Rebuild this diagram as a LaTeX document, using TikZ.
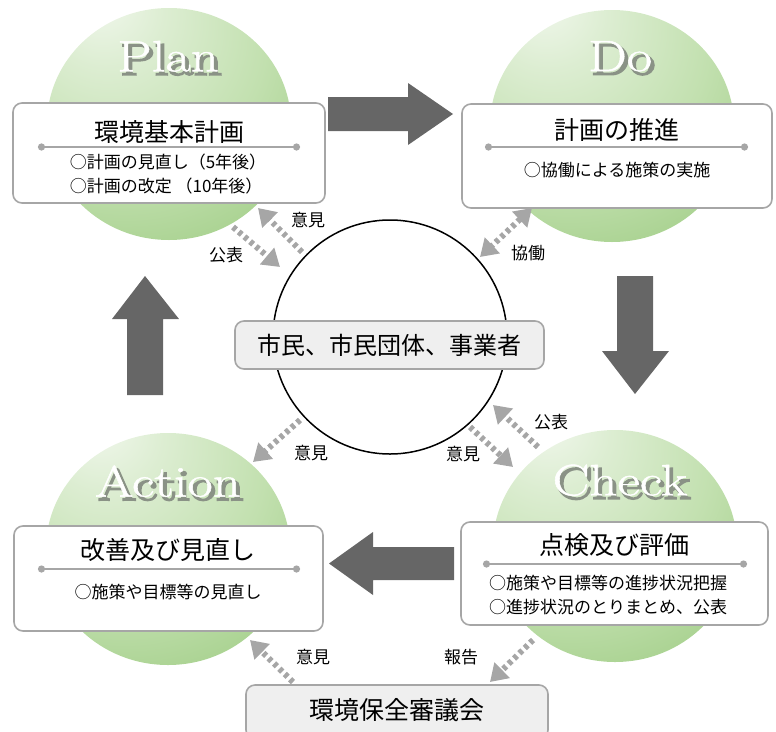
\documentclass[tikz,border=0pt]{standalone}
\usepackage{fontspec}
\setmainfont{Noto Sans CJK JP}
\newfontfamily\pdcafont[FakeBold=1]{Latin Modern Roman}
\newfontfamily\pdcashadowfont[FakeBold=4]{Latin Modern Roman}
\usetikzlibrary{arrows.meta,calc}
\definecolor{boxline}{HTML}{A6A6A6}
\definecolor{arrowdark}{HTML}{666666}
\definecolor{dotgray}{HTML}{A6A6A6}
\definecolor{lightfill}{HTML}{EFEFEF}
\definecolor{sphin}{HTML}{F2F8EE}
\definecolor{sphmid}{HTML}{C2E0AF}
\definecolor{sphout}{HTML}{99C97D}
\definecolor{shadowgray}{HTML}{8A9286}
\pgfdeclareradialshading{sphereshade}{\pgfpoint{-15bp}{28bp}}{color(0bp)=(sphin); color(12bp)=(sphin!55!sphmid); color(30bp)=(sphmid); color(52bp)=(sphout); color(90bp)=(sphout!90!black)}
\newcommand\pdcaword[1]{\scalebox{1.25}[1]{\makebox[0pt][l]{\raisebox{-3.5pt}{\hspace{2.5pt}{\pdcashadowfont\color{shadowgray}#1}}}{\pdcafont\color{white}#1}}}
\tikzset{
  stagebox/.style={draw=boxline, line width=1.6pt, rounded corners=9pt, fill=white, inner sep=0pt},
  graybox/.style={draw=boxline, line width=1.6pt, rounded corners=9pt, fill=lightfill, inner sep=0pt},
  titletext/.style={font=\fontsize{25}{28}\selectfont, inner sep=0pt},
  subtext/.style={font=\fontsize{17}{23.5}\selectfont, align=left, inner sep=0pt},
  labeltext/.style={font=\fontsize{17}{19}\selectfont, inner sep=0pt},
  sepline/.style={draw=boxline, line width=2.6pt, {Circle[length=7pt]}-{Circle[length=7pt]}},
  dotarrow/.style={draw=dotgray, line width=6pt, dash pattern=on 4pt off 3.5pt, -{Triangle[length=17pt,width=21pt]}},
  dotboth/.style={draw=dotgray, line width=6pt, dash pattern=on 4pt off 3.5pt, {Triangle[length=17pt,width=21pt]}-{Triangle[length=17pt,width=21pt]}},
  bigarrow/.style={fill=arrowdark},
  pdca/.style={font=\fontsize{44}{46}\selectfont, inner sep=0pt},
}
\begin{document}
\begin{tikzpicture}[x=1pt, y=-1pt]
\useasboundingbox (0,0) rectangle (776,731);
\clip (0,0) rectangle (776,731);

% spheres
\shade[shading=sphereshade] (169,124) ellipse [x radius=122pt, y radius=116pt];
\shade[shading=sphereshade] (612,126) ellipse [x radius=122pt, y radius=116pt];
\shade[shading=sphereshade] (168,549) ellipse [x radius=122pt, y radius=116pt];
\shade[shading=sphereshade] (615,546) ellipse [x radius=122pt, y radius=116pt];

% PDCA labels
\node[pdca] (plantxt) at (168,58) {\pdcaword{Plan}};
\node[pdca] (dotxt) at (620,58) {\pdcaword{Do}};
\node[pdca] (actiontxt) at (168,483) {\pdcaword{Action}};
\node[pdca] (checktxt) at (620,482) {\pdcaword{Check}};

% stage boxes
\node[stagebox, minimum width=312pt, minimum height=100pt] (planbox) at (169,153) {};
\node[stagebox, minimum width=310pt, minimum height=104pt] (dobox) at (617,156) {};
\node[stagebox, minimum width=309pt, minimum height=105pt] (actionbox) at (168.5,578.5) {};
\node[stagebox, minimum width=307pt, minimum height=103pt] (checkbox) at (614.5,573.5) {};

\node[titletext] (plantitle) at (169,132) {環境基本計画};
\node[titletext] (dotitle) at (617,130) {計画の推進};
\node[titletext] (actiontitle) at (168,550) {改善及び見直し};
\node[titletext] (checktitle) at (614,545) {点検及び評価};

\coordinate (pl1) at (38,147); \coordinate (pl2) at (300,147);
\coordinate (dl1) at (485,147); \coordinate (dl2) at (748,147);
\coordinate (al1) at (38,569); \coordinate (al2) at (300,569);
\coordinate (cl1) at (483,564); \coordinate (cl2) at (747,564);
\draw[sepline] (pl1) -- (pl2);
\draw[sepline] (dl1) -- (dl2);
\draw[sepline] (al1) -- (al2);
\draw[sepline] (cl1) -- (cl2);

\node[subtext] (plansub) at (168,174) {○計画の見直し（5年後）\\○計画の改定 （10年後）};
\node[subtext] (dosub) at (617,170) {○協働による施策の実施};
\node[subtext] (actionsub) at (168,592) {○施策や目標等の見直し};
\node[subtext] (checksub) at (608,595) {○施策や目標等の進捗状況把握\\○進捗状況のとりまとめ、公表};

% central circle and boxes
\node[circle, draw=black, line width=1.5pt, fill=white, minimum size=234pt, inner sep=0pt] (people) at (390,337) {};
\node[graybox, minimum width=309pt, minimum height=48pt] (peoplebox) at (389.5,345) {};
\node[titletext, font=\fontsize{24}{26}\selectfont] (peopletxt) at (389.5,345) {市民、市民団体、事業者};
\node[graybox, minimum width=302pt, minimum height=54pt] (council) at (397,712) {};
\node[titletext] (counciltxt) at (397,710) {環境保全審議会};

% big arrows
\fill[bigarrow] (328,97) -- (408,97) -- (408,83) -- (453,114) -- (408,145) -- (408,131) -- (328,131) -- cycle;
\fill[bigarrow] (617,276) -- (653,276) -- (653,351) -- (669,351) -- (635,394) -- (602,351) -- (617,351) -- cycle;
\fill[bigarrow] (454,547) -- (373,547) -- (373,532) -- (329,563.5) -- (373,595) -- (373,580) -- (454,580) -- cycle;
\fill[bigarrow] (127,395) -- (127,319) -- (112,319) -- (145,276) -- (179,319) -- (163,319) -- (163,395) -- cycle;

% dotted arrows
\coordinate (a1s) at (302,252); \coordinate (a1e) at (258,208);
\coordinate (a2s) at (233,227); \coordinate (a2e) at (280,267);
\coordinate (a3s) at (532,208); \coordinate (a3e) at (480,257);
\coordinate (a4s) at (538,447); \coordinate (a4e) at (493,405);
\coordinate (a5s) at (470,427); \coordinate (a5e) at (513,467);
\coordinate (a6s) at (300,420); \coordinate (a6e) at (253,462);
\coordinate (a7s) at (293,682); \coordinate (a7e) at (250,640);
\coordinate (a8s) at (533,640); \coordinate (a8e) at (490,682);
\draw[dotarrow] (a1s) -- (a1e);
\draw[dotarrow] (a2s) -- (a2e);
\draw[dotboth] (a3s) -- (a3e);
\draw[dotarrow] (a4s) -- (a4e);
\draw[dotarrow] (a5s) -- (a5e);
\draw[dotarrow] (a6s) -- (a6e);
\draw[dotarrow] (a7s) -- (a7e);
\draw[dotarrow] (a8s) -- (a8e);

\node[labeltext] (l1) at (308,220) {意見};
\node[labeltext] (l2) at (226,255) {公表};
\node[labeltext] (l3) at (528,253) {協働};
\node[labeltext] (l4) at (551,422) {公表};
\node[labeltext] (l5) at (463,454) {意見};
\node[labeltext] (l6) at (311,453) {意見};
\node[labeltext] (l7) at (313,657) {意見};
\node[labeltext] (l8) at (461,657) {報告};
\end{tikzpicture}
\end{document}
